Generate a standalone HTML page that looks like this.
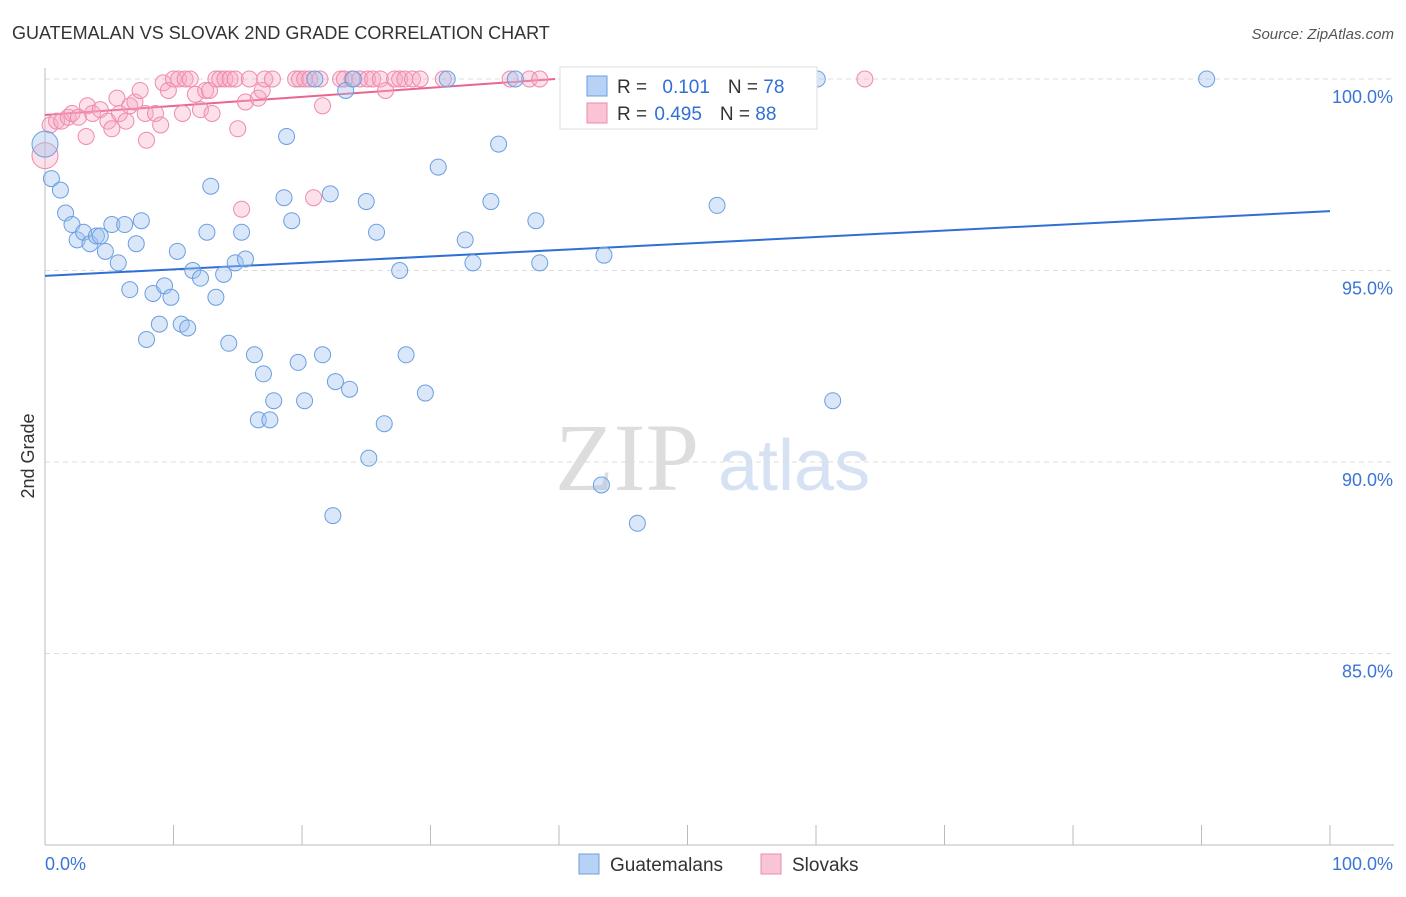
<!DOCTYPE html>
<html><head><meta charset="utf-8"><style>
body{margin:0;background:#fff;font-family:"Liberation Sans",sans-serif}
</style></head><body>
<svg id="chart" width="1406" height="892" xmlns="http://www.w3.org/2000/svg">
<text x="12" y="39" font-size="18" fill="#333">GUATEMALAN VS SLOVAK 2ND GRADE CORRELATION CHART</text>
<text x="1394" y="39" font-size="15" fill="#555" font-style="italic" text-anchor="end">Source: ZipAtlas.com</text>
<text transform="translate(34,456) rotate(-90)" font-size="18" fill="#333" text-anchor="middle">2nd Grade</text>
<g><text x="555" y="490" font-size="96" fill="#ddd" font-family="Liberation Serif,serif">ZIP</text><text x="718" y="490" font-size="72" fill="#d6e2f3">atlas</text></g>
<g id="grid"></g><g id="axes"></g><g id="trends"></g><g id="pts"></g>
<g>
<rect x="560" y="67" width="257" height="62" fill="#fff" stroke="#ddd"/>
<rect x="587" y="76" width="20" height="20" fill="#b8d2f5" stroke="#6a9fe0"/>
<rect x="587" y="103" width="20" height="20" fill="#f9c4d4" stroke="#f08aab"/>
<text x="617" y="93" font-size="19" fill="#333">R = <tspan fill="#2f6fd6" dx="10">0.101</tspan><tspan dx="18" fill="#333">N = </tspan><tspan fill="#2f6fd6">78</tspan></text>
<text x="617" y="120" font-size="19" fill="#333">R = <tspan fill="#2f6fd6" dx="2">0.495</tspan><tspan dx="18" fill="#333">N = </tspan><tspan fill="#2f6fd6">88</tspan></text>
</g>
<g>
<rect x="579" y="854" width="20" height="20" fill="#b8d2f5" stroke="#6a9fe0"/>
<text x="610" y="871" font-size="19" fill="#333">Guatemalans</text>
<rect x="761" y="854" width="20" height="20" fill="#f9c4d4" stroke="#f08aab"/>
<text x="792" y="871" font-size="19" fill="#333">Slovaks</text>
</g>
</svg>
<script>
const blueX=[0,0.5,1.2,1.6,2.1,2.5,3.0,3.5,4.0,4.3,4.7,5.2,5.7,6.2,6.6,7.1,7.5,7.9,8.4,8.9,9.3,9.8,10.3,10.6,11.1,11.5,12.1,12.6,12.9,13.3,13.9,14.3,14.8,15.3,15.6,16.3,16.6,17.0,17.5,17.8,18.6,18.8,19.2,19.7,20.2,21.6,22.2,22.6,23.4,23.7,24.0,25.0,25.2,25.8,26.4,27.6,28.1,29.6,30.6,31.3,32.7,33.3,34.7,35.3,36.6,38.2,38.5,43.3,43.5,46.1,52.3,58.8,60.1,61.3,90.4,22.4,21.0];
const blueY=[98.3,97.4,97.1,96.5,96.2,95.8,96.0,95.7,95.9,95.9,95.5,96.2,95.2,96.2,94.5,95.7,96.3,93.2,94.4,93.6,94.6,94.3,95.5,93.6,93.5,95.0,94.8,96.0,97.2,94.3,94.9,93.1,95.2,96.0,95.3,92.8,91.1,92.3,91.1,91.6,96.9,98.5,96.3,92.6,91.6,92.8,97.0,92.1,99.7,91.9,100,96.8,90.1,96.0,91.0,95.0,92.8,91.8,97.7,100,95.8,95.2,96.8,98.3,100,96.3,95.2,89.4,95.4,88.4,96.7,100,100,91.6,100,88.6,100];
const pinkX=[0,0.4,0.9,1.3,1.8,2.1,2.6,3.2,3.3,3.7,4.3,4.9,5.2,5.6,5.8,6.3,6.6,7.0,7.4,7.8,7.9,8.6,9.0,9.2,9.6,10.0,10.4,10.7,10.9,11.3,11.7,12.1,12.5,12.8,13.0,13.3,13.6,14.0,14.4,14.8,15.0,15.3,15.6,15.9,16.6,16.9,17.1,17.7,19.5,19.8,20.2,20.6,20.9,21.4,21.6,23.0,23.3,23.9,24.5,25.1,25.5,26.1,26.5,27.2,27.6,28.0,28.6,29.2,31.0,36.2,37.7,38.5,51.8,63.8];
const pinkY=[98.0,98.8,98.9,98.9,99.0,99.1,99.0,98.5,99.3,99.1,99.2,98.9,98.7,99.5,99.1,98.9,99.3,99.4,99.7,99.1,98.4,99.1,98.8,99.9,99.7,100,100,99.1,100,100,99.6,99.2,99.7,99.7,99.1,100,100,100,100,100,98.7,96.6,99.4,100,99.5,99.7,100,100,100,100,100,100,96.9,100,99.3,100,100,100,100,100,100,100,99.7,100,100,100,100,100,100,100,100,100,100,100];
const yTicks=[100,95,90,85];
const yTickLabels=["100.0%","95.0%","90.0%","85.0%"];
const blueTrend=[94.86,96.55];   // y at x=0, x=100
const pinkTrend=[99.06,100,39.7]; // y at 0, y at end, end x
const NS="http://www.w3.org/2000/svg";
const sx=v=>45+v*12.85, sy=v=>79+(100-v)*38.3;
function mk(tag,attrs,parent){const e=document.createElementNS(NS,tag);for(const k in attrs)e.setAttribute(k,attrs[k]);document.getElementById(parent).appendChild(e);return e;}
yTicks.forEach((t,i)=>{
 const g=mk('line',{x1:45,x2:1394,y1:sy(t),y2:sy(t),stroke:'#ddd','stroke-dasharray':'5,4'},'grid');
 
 
 const l=mk('text',{x:1393,y:sy(t)+24,'font-size':18,fill:'#3a75d6','text-anchor':'end'},'grid');l.textContent=yTickLabels[i];
 
 
});
mk('line',{x1:45,x2:45,y1:68,y2:845,stroke:'#bbb'},'axes');
mk('line',{x1:45,x2:1394,y1:845,y2:845,stroke:'#bbb'},'axes');
for(let i=0;i<=10;i++){const t=mk('line',{x1:sx(i*10),x2:sx(i*10),y1:825,y2:845,stroke:'#bbb'},'axes');
 
 }
let a=mk('text',{x:45,y:870,'font-size':18,fill:'#3a75d6'},'axes');a.textContent='0.0%';


a=mk('text',{x:1393,y:870,'font-size':18,fill:'#3a75d6','text-anchor':'end'},'axes');a.textContent='100.0%';


pinkX.forEach((x,i)=>{const c=mk('circle',{cx:sx(x),cy:sy(pinkY[i]),r:i==0?13:8,fill:'rgba(245,170,195,0.35)',stroke:'#f08aab','stroke-width':1},'pts');
 
 });
blueX.forEach((x,i)=>{const c=mk('circle',{cx:sx(x),cy:sy(blueY[i]),r:i==0?13:8,fill:'rgba(160,196,240,0.4)',stroke:'#6a9fe0','stroke-width':1},'pts');
 
 });
let tl=mk('line',{x1:sx(0),y1:sy(blueTrend[0]),x2:sx(100),y2:sy(blueTrend[1]),stroke:'#2f6fd6','stroke-width':2},'trends');


tl=mk('line',{x1:sx(0),y1:sy(pinkTrend[0]),x2:sx(pinkTrend[2]),y2:sy(pinkTrend[1]),stroke:'#e8668e','stroke-width':2},'trends');


</script>
</body></html>
